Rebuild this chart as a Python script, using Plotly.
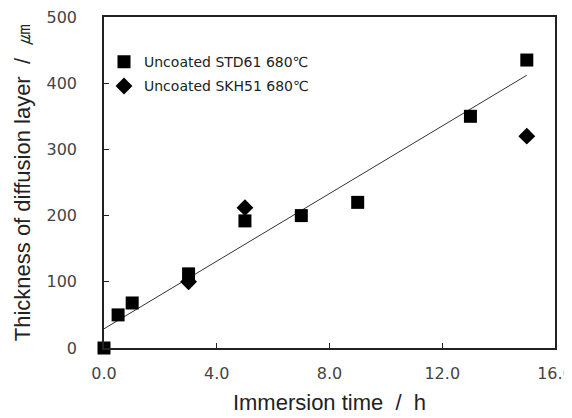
import plotly.graph_objects as go

std61_x = [0, 0.5, 1, 3, 5, 7, 9, 13, 15]
std61_y = [0, 50, 68, 112, 192, 200, 220, 350, 435]
skh51_x = [3, 5, 15]
skh51_y = [100, 212, 320]
fit_x = [0, 15]
fit_y = [29, 412]
x_ticks = [0, 4, 8, 12, 16]
x_tick_labels = ["0.0", "4.0", "8.0", "12.0", "16.0"]
y_ticks = [0, 100, 200, 300, 400, 500]

fig = go.Figure()
fig.add_trace(go.Scatter(x=fit_x, y=fit_y, mode="lines", line=dict(color="#333", width=1),
                         showlegend=False, hoverinfo="skip"))
fig.add_trace(go.Scatter(x=std61_x, y=std61_y, mode="markers", name="Uncoated STD61 680℃",
                         legendgroup="a",
                         marker=dict(symbol="square", size=13, color="black"), cliponaxis=False))
fig.add_trace(go.Scatter(x=skh51_x, y=skh51_y, mode="markers", name="Uncoated SKH51 680℃",
                         legendgroup="b",
                         marker=dict(symbol="diamond", size=13, color="black"), cliponaxis=False))

axis_common = dict(showline=True, linecolor="#222", linewidth=1.5, mirror=True, automargin=False,
                   ticks="inside", ticklen=5, tickcolor="#222", showgrid=False, zeroline=False,
                   ticklabeloverflow="allow",
                   tickfont=dict(family="DejaVu Sans", size=16, color="#444"))
title_font = dict(family="Liberation Sans", size=22, color="#222")
fig.update_xaxes(range=[0, 16], tickvals=x_ticks, ticktext=x_tick_labels, ticklabelstandoff=10,
                 title=dict(text="Immersion time  /  h", font=title_font, standoff=13),
                 **axis_common)
fig.update_yaxes(range=[0, 500], tickvals=y_ticks, ticklabelstandoff=22,
                 title=dict(text="Thickness of diffusion layer  /  ㎛", font=title_font, standoff=10),
                 **axis_common)
# page body adds an 8px offset, so the figure is sized to fit the 572x418 window
fig.update_layout(width=564, height=410, margin=dict(l=96, r=17, t=9, b=70),
                  paper_bgcolor="white", plot_bgcolor="white",
                  legend=dict(x=0.0, y=0.912, xanchor="left", yanchor="top", bgcolor="rgba(0,0,0,0)",
                              font=dict(family="DejaVu Sans", size=14, color="#222"),
                              itemwidth=30, tracegroupgap=3))
fig.write_html("out.html")
